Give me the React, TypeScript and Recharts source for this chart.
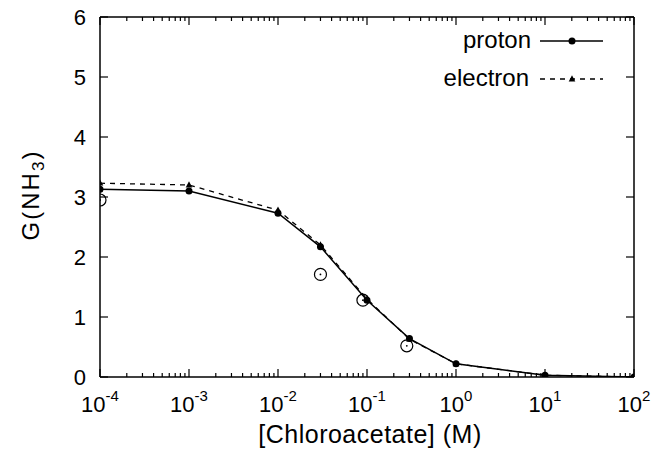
import React from 'react';
import { ComposedChart, Line, Scatter, XAxis, YAxis, Legend } from 'recharts';

const FONT = '"Liberation Sans", Arial, Helvetica, sans-serif';

// Simulation: concentration of chloroacetate (M)
const concentrations = [1e-4, 1e-3, 1e-2, 3e-2, 1e-1, 3e-1, 1, 10, 100];
const protonG = [3.13, 3.1, 2.73, 2.17, 1.28, 0.64, 0.22, 0.03, 0.0];
const electronG = [3.23, 3.2, 2.78, 2.2, 1.3, 0.63, 0.22, 0.03, 0.0];

// Experimental points (open circles)
const expConc = [1e-4, 3e-2, 9e-2, 2.8e-1];
const expG = [2.95, 1.71, 1.28, 0.52];

// Axis ticks
const majorTicks = [1e-4, 1e-3, 1e-2, 1e-1, 1, 10, 100];
const majorExponents = ['-4', '-3', '-2', '-1', '0', '1', '2'];
const minorMultipliers = [2, 3, 4, 5, 6, 7, 8, 9];
const yTicks = [0, 1, 2, 3, 4, 5, 6];

const minorTicks: number[] = [];
majorTicks.slice(0, -1).forEach((m) => minorMultipliers.forEach((k) => minorTicks.push(k * m)));
const allXTicks = [...majorTicks, ...minorTicks].sort((a, b) => a - b);

const protonData = concentrations.map((x, i) => ({ x, y: protonG[i] }));
const electronData = concentrations.map((x, i) => ({ x, y: electronG[i] }));
const expData = expConc.map((x, i) => ({ x, y: expG[i] }));

const majorIndex = (v: number) =>
  majorTicks.findIndex((t) => Math.abs(Math.log10(t) - Math.log10(v)) < 1e-6);

const BottomTick = (props: any) => {
  const { x, y, payload } = props;
  const idx = majorIndex(payload.value);
  const len = idx >= 0 ? 8 : 4;
  return (
    <g>
      <line x1={x} x2={x} y1={y} y2={y - len} stroke="#000" strokeWidth={1.2} />
      {idx >= 0 && (
        <text x={x} y={y + 35} textAnchor="middle" fontFamily={FONT} fontSize={22} fill="#000">
          10
          <tspan dy={-11} fontSize={15}>
            {majorExponents[idx]}
          </tspan>
        </text>
      )}
    </g>
  );
};

const TopTick = (props: any) => {
  const { x, y, payload } = props;
  const idx = majorIndex(payload.value);
  const len = idx >= 0 ? 8 : 4;
  return <line x1={x} x2={x} y1={y} y2={y + len} stroke="#000" strokeWidth={1.2} />;
};

const LeftTick = (props: any) => {
  const { x, y, payload } = props;
  return (
    <g>
      <line x1={x} x2={x + 8} y1={y} y2={y} stroke="#000" strokeWidth={1.2} />
      <text x={x - 14} y={y + 8} textAnchor="end" fontFamily={FONT} fontSize={22} fill="#000">
        {payload.value}
      </text>
    </g>
  );
};

const RightTick = (props: any) => {
  const { x, y } = props;
  return <line x1={x} x2={x - 8} y1={y} y2={y} stroke="#000" strokeWidth={1.2} />;
};

const YLabel = (props: any) => {
  const vb = props.viewBox || { x: 0, y: 17, width: 100, height: 360 };
  const cx = vb.x + 39;
  const cy = vb.y + vb.height / 2 - 2;
  return (
    <text
      x={cx}
      y={cy}
      transform={`rotate(-90 ${cx} ${cy})`}
      textAnchor="middle"
      fontFamily={FONT}
      fontSize={24}
      letterSpacing={2}
      fill="#000"
    >
      G(NH
      <tspan dy={5} fontSize={17}>
        3
      </tspan>
      <tspan dy={-5}>)</tspan>
    </text>
  );
};

const XLabel = (props: any) => {
  const vb = props.viewBox || { x: 100, y: 377, width: 534, height: 78 };
  return (
    <text
      x={vb.x + vb.width / 2 + 3}
      y={vb.y + 66}
      textAnchor="middle"
      fontFamily={FONT}
      fontSize={25}
      letterSpacing={0.5}
      fill="#000"
    >
      [Chloroacetate] (M)
    </text>
  );
};

const Triangle = ({ cx, cy }: { cx: number; cy: number }) => (
  <polygon
    points={`${cx},${cy - 3.8} ${cx - 3.3},${cy + 2.4} ${cx + 3.3},${cy + 2.4}`}
    fill="#000"
  />
);

const LegendContent = () => (
  <svg width={240} height={80} style={{ display: 'block', overflow: 'visible' }}>
    <text x={131} y={28} textAnchor="end" fontFamily={FONT} fontSize={24} fill="#000">
      proton
    </text>
    <line x1={140} x2={203} y1={21} y2={21} stroke="#000" strokeWidth={1.3} />
    <circle cx={172} cy={21} r={3.5} fill="#000" />
    <text x={129} y={66} textAnchor="end" fontFamily={FONT} fontSize={24} fill="#000">
      electron
    </text>
    <line x1={140} x2={203} y1={59} y2={59} stroke="#000" strokeWidth={1.3} strokeDasharray="5 5" />
    <Triangle cx={172} cy={59} />
  </svg>
);

export default function App() {
  return (
    <div style={{ position: 'absolute', left: 0, top: 0, background: '#fff' }}>
      <ComposedChart width={655} height={455} margin={{ top: 0, right: 0, bottom: 0, left: 0 }}>
        <XAxis
          xAxisId="bottom"
          dataKey="x"
          type="number"
          scale="log"
          domain={[1e-4, 100]}
          allowDataOverflow
          ticks={allXTicks}
          interval={0}
          height={78}
          tickSize={0}
          tickMargin={0}
          tickLine={false}
          axisLine={{ stroke: '#000', strokeWidth: 1.5 }}
          tick={(p: any) => <BottomTick {...p} />}
          label={{ content: (p: any) => <XLabel {...p} /> }}
        />
        <XAxis
          xAxisId="top"
          orientation="top"
          dataKey="x"
          type="number"
          scale="log"
          domain={[1e-4, 100]}
          allowDataOverflow
          ticks={allXTicks}
          interval={0}
          height={17}
          tickSize={0}
          tickMargin={0}
          tickLine={false}
          axisLine={{ stroke: '#000', strokeWidth: 1.5 }}
          tick={(p: any) => <TopTick {...p} />}
        />
        <YAxis
          yAxisId="left"
          dataKey="y"
          type="number"
          domain={[0, 6]}
          allowDataOverflow
          ticks={yTicks}
          interval={0}
          width={100}
          tickSize={0}
          tickMargin={0}
          tickLine={false}
          axisLine={{ stroke: '#000', strokeWidth: 1.5 }}
          tick={(p: any) => <LeftTick {...p} />}
          label={{ content: (p: any) => <YLabel {...p} /> }}
        />
        <YAxis
          yAxisId="right"
          orientation="right"
          type="number"
          domain={[0, 6]}
          allowDataOverflow
          ticks={yTicks}
          interval={0}
          width={21}
          tickSize={0}
          tickMargin={0}
          tickLine={false}
          axisLine={{ stroke: '#000', strokeWidth: 1.5 }}
          tick={(p: any) => <RightTick {...p} />}
        />
        <Legend
          layout="horizontal"
          verticalAlign="middle"
          align="center"
          content={() => <LegendContent />}
          wrapperStyle={{ position: 'absolute', left: 400, top: 20, width: 240, height: 80 }}
        />
        <Scatter
          name="experiment"
          data={expData}
          dataKey="y"
          xAxisId="bottom"
          yAxisId="left"
          isAnimationActive={false}
          shape={(p: any) => (
            <g>
              <circle cx={p.cx} cy={p.cy} r={6} fill="none" stroke="#000" strokeWidth={1.2} />
              <circle cx={p.cx} cy={p.cy} r={0.9} fill="#000" />
            </g>
          )}
        />
        <Line
          name="electron"
          data={electronData}
          dataKey="y"
          xAxisId="bottom"
          yAxisId="left"
          type="linear"
          stroke="#000"
          strokeWidth={1.3}
          strokeDasharray="5 5"
          isAnimationActive={false}
          dot={(p: any) => <Triangle key={`e-${p.index}`} cx={p.cx} cy={p.cy} />}
          activeDot={false}
        />
        <Line
          name="proton"
          data={protonData}
          dataKey="y"
          xAxisId="bottom"
          yAxisId="left"
          type="linear"
          stroke="#000"
          strokeWidth={1.5}
          isAnimationActive={false}
          dot={(p: any) => <circle key={`p-${p.index}`} cx={p.cx} cy={p.cy} r={3.5} fill="#000" />}
          activeDot={false}
        />
      </ComposedChart>
    </div>
  );
}
